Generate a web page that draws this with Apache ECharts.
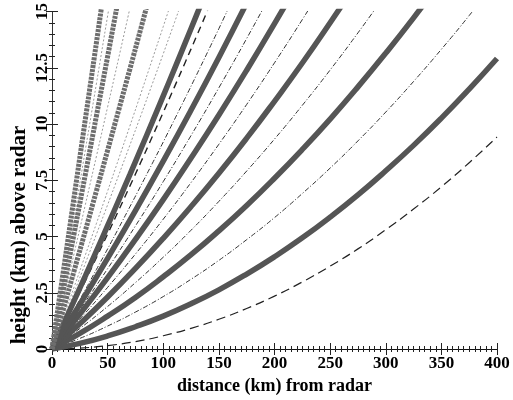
<!DOCTYPE html>
<html><head><meta charset="utf-8">
<script src="https://cdn.jsdelivr.net/npm/echarts@6.0.0/dist/echarts.min.js"></script>
<style>html,body{margin:0;padding:0;background:#fff}#c{width:513px;height:400px}</style>
</head><body><div id="c"></div>
<script>
// distances (km) at which heights were read
const distanceKm = [0,25,50,75,100,125,150,175,200,225,250,275,300,325,350,375,400];
const nearDistanceKm = [0,10,20,30,40,50,60,70,80,90,100,110,120,130,140,150,160,170];

// thick lines, heights (km) on distanceKm
const beamA = [0,0.25,0.58,0.99,1.46,2.01,2.63,3.33,4.10,4.94,5.86,6.85,7.92,9.05,10.26,11.55,12.91];
const beamB = [0,0.69,1.46,2.29,3.21,4.19,5.25,6.38,7.59,8.87,10.22,11.65,13.15,14.72,16.37];
const beamC = [0,1.12,2.31,3.58,4.92,6.33,7.81,9.37,11.01,12.71,14.50,16.35];
const beamD = [0,1.55,3.17,4.87,6.64,8.49,10.40,12.39,14.46,16.60];
const beamE = [0,1.98,4.03,6.15,8.35,10.62,12.96,15.38,17.87];
// thick lines, heights (km) on nearDistanceKm
const beamF = [0,1.07,2.16,3.25,4.36,5.48,6.61,7.75,8.91,10.07,11.25,12.44,13.64,14.85,16.08];
const beamG = [0,1.74,3.50,5.26,7.04,8.83,10.63,12.44,14.27,16.11];
const beamH = [0,2.58,5.17,7.77,10.38,13.00,15.64];
const beamI = [0,3.39,6.80,10.22,13.64,17.08];

// thin lines, heights (km) on distanceKm
const edge0 = [0,0.04,0.15,0.33,0.59,0.92,1.32,1.80,2.35,2.98,3.68,4.45,5.30,6.22,7.21,8.28,9.42];
const edge1 = [0,0.47,1.02,1.64,2.33,3.10,3.94,4.86,5.84,6.91,8.04,9.25,10.53,11.89,13.32,14.82,16.40];
const edge2 = [0,0.91,1.89,2.95,4.08,5.28,6.56,7.91,9.33,10.83,12.40,14.05,15.77];
const edge3 = [0,1.33,2.74,4.22,5.77,7.40,9.10,10.87,12.72,14.64,16.63];
const edge4 = [0,1.75,3.57,5.47,7.44,9.49,11.61,13.80,16.06];
// thin lines, heights (km) on nearDistanceKm
const edge5  = [0,0.87,1.75,2.64,3.54,4.45,5.38,6.32,7.27,8.23,9.20,10.19,11.18,12.19,13.21,14.24,15.29];
const edge6  = [0,1.00,2.01,3.03,4.07,5.11,6.17,7.24,8.32,9.42,10.52,11.64,12.77,13.91,15.06];
const edge7  = [0,1.26,2.53,3.81,5.11,6.41,7.73,9.06,10.40,11.76,13.12,14.50,15.89];
const edge8  = [0,1.38,2.77,4.18,5.59,7.02,8.46,9.91,11.37,12.85,14.33,15.83];
const edge9  = [0,2.13,4.27,6.42,8.58,10.76,12.94,15.14];
const edge10 = [0,2.94,5.89,8.85,11.82,14.81,17.80];

const xTitle = 'distance (km) from radar';
const yTitle = 'height (km) above radar';

const styles = {
  beam:   {color:'#555555', width:5.5, type:'solid'},
  chain:  {color:'#6e6e6e', width:5, type:[3,1]},
  thin:   {color:'#333333', width:1, type:[5,2,1,2]},
  ground: {color:'#222222', width:1.2, type:[9,5]},
  dark:   {color:'#222222', width:1.4, type:[7,5]},
  light:  {color:'#9a9a9a', width:1, type:[2,2]}
};

const lines = [
  [distanceKm, edge0, 'ground'],
  [distanceKm, edge1, 'thin'],
  [distanceKm, edge2, 'thin'],
  [distanceKm, edge3, 'thin'],
  [distanceKm, edge4, 'thin'],
  [nearDistanceKm, edge5, 'thin'],
  [nearDistanceKm, edge6, 'dark'],
  [nearDistanceKm, edge7, 'light'],
  [nearDistanceKm, edge8, 'light'],
  [nearDistanceKm, edge9, 'light'],
  [nearDistanceKm, edge10, 'light'],
  [distanceKm, beamA, 'beam'],
  [distanceKm, beamB, 'beam'],
  [distanceKm, beamC, 'beam'],
  [distanceKm, beamD, 'beam'],
  [distanceKm, beamE, 'beam'],
  [nearDistanceKm, beamF, 'beam'],
  [nearDistanceKm, beamG, 'chain'],
  [nearDistanceKm, beamH, 'chain'],
  [nearDistanceKm, beamI, 'chain']
];

const series = lines.map(function (l) {
  const xs = l[0], ys = l[1], st = l[2];
  return {
    type:'line',
    data: ys.map(function (h, i) { return [xs[i], h]; }),
    smooth: true,
    showSymbol: false,
    symbol: 'none',
    silent: true,
    lineStyle: styles[st],
    z: (st === 'beam' || st === 'chain') ? 3 : 2
  };
});

const font = 'Liberation Serif';
const tickCol = '#222';
const chart = echarts.init(document.getElementById('c'));
chart.setOption({
  animation: false,
  backgroundColor: '#fff',
  grid: {left:52, right:16, top:11, bottom:50},
  xAxis: [{
    type:'value', min:0, max:400, interval:50, position:'bottom',
    name: xTitle, nameLocation:'middle', nameGap:28,
    nameTextStyle:{fontFamily:font, fontWeight:'bold', fontSize:18, color:'#000'},
    axisLine:{show:true, lineStyle:{color:'#111', width:1}},
    axisTick:{show:true, inside:true, length:6, lineStyle:{color:tickCol}},
    minorTick:{show:true, splitNumber:10, length:3, lineStyle:{color:tickCol}},
    axisLabel:{fontFamily:font, fontWeight:'bold', fontSize:17, color:'#000', margin:6},
    splitLine:{show:false}
  },{
    type:'value', min:0, max:400, interval:50, position:'top',
    axisLine:{show:false},
    axisTick:{show:true, inside:true, length:6, lineStyle:{color:tickCol}},
    minorTick:{show:true, splitNumber:10, length:3, lineStyle:{color:tickCol}},
    axisLabel:{show:false}, splitLine:{show:false}
  }],
  yAxis: [{
    type:'value', min:0, max:15, interval:2.5, position:'left',
    axisLine:{show:true, lineStyle:{color:'#111', width:1}},
    axisTick:{show:true, inside:true, length:6, lineStyle:{color:tickCol}},
    minorTick:{show:true, splitNumber:5, length:3, lineStyle:{color:tickCol}},
    axisLabel:{fontFamily:font, fontWeight:'bold', fontSize:17, color:'#000', margin:1, rotate:90},
    splitLine:{show:false}
  },{
    type:'value', min:0, max:15, interval:2.5, position:'right',
    axisLine:{show:true, lineStyle:{color:'#333', width:1}},
    axisTick:{show:true, inside:true, length:6, lineStyle:{color:tickCol}},
    minorTick:{show:true, splitNumber:5, length:3, lineStyle:{color:tickCol}},
    axisLabel:{show:false}, splitLine:{show:false}
  }],
  graphic: [{
    type:'text', x:20, y:235, rotation:Math.PI/2,
    style:{text:yTitle, fontFamily:font, fontWeight:'bold', fontSize:21, fill:'#000',
      align:'center', verticalAlign:'middle'}
  }],
  series: series
});
</script></body></html>
